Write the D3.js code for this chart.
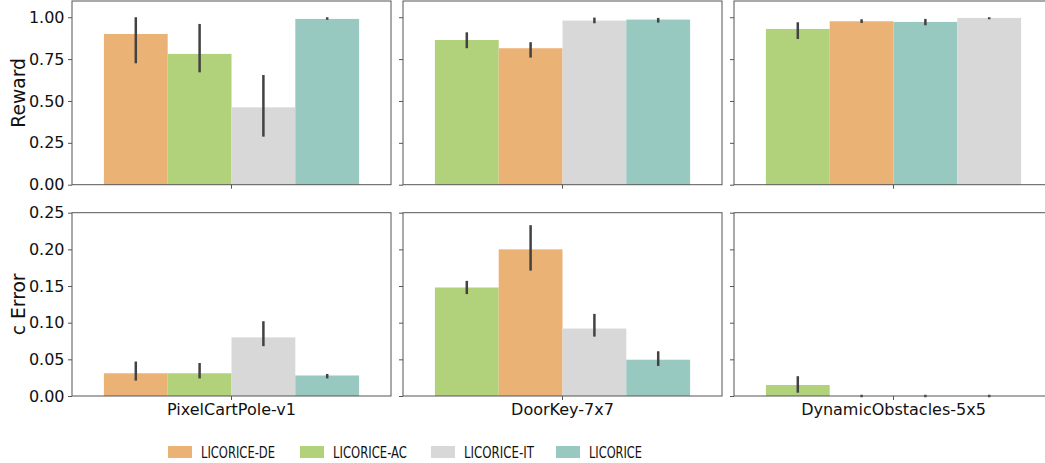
<!DOCTYPE html>
<html>
<head>
<meta charset="utf-8">
<script src="https://cdn.jsdelivr.net/npm/d3@7"></script>
<style>
  body { margin: 0; background: #fff; }
  svg { display: block; font-family: "DejaVu Sans", sans-serif; }
</style>
</head>
<body>
<script>
// data
const envs = ["PixelCartPole-v1", "DoorKey-7x7", "DynamicObstacles-5x5"];
const methods = ["LICORICE-DE", "LICORICE-AC", "LICORICE-IT", "LICORICE"];
const colors = ["#ebb276", "#b1d17a", "#d8d8d8", "#98c9c1"];

// bar order inside each environment group
const barOrder = [
  ["LICORICE-DE", "LICORICE-AC", "LICORICE-IT", "LICORICE"],
  ["LICORICE-AC", "LICORICE-DE", "LICORICE-IT", "LICORICE"],
  ["LICORICE-AC", "LICORICE-DE", "LICORICE", "LICORICE-IT"]
];

// values per env, in `methods` order: [DE, AC, IT, LICORICE]
const rewardMean = [[0.90, 0.781, 0.462, 0.99], [0.815, 0.864, 0.98, 0.986], [0.976, 0.930, 0.996, 0.972]];
const rewardLo   = [[0.725, 0.671, 0.287, 0.985], [0.759, 0.815, 0.964, 0.968], [0.966, 0.870, 0.988, 0.952]];
const rewardHi   = [[1.0, 0.96, 0.655, 1.0], [0.851, 0.91, 0.998, 0.996], [0.988, 0.970, 1.0, 0.990]];

const errMean = [[0.031, 0.031, 0.080, 0.028], [0.200, 0.148, 0.092, 0.0495], [0, 0.015, 0, 0]];
const errLo   = [[0.021, 0.024, 0.068, 0.024], [0.171, 0.139, 0.081, 0.041], [0, 0.0045, 0, 0]];
const errHi   = [[0.047, 0.045, 0.102, 0.030], [0.233, 0.157, 0.112, 0.061], [0, 0.027, 0, 0]];

const rewardTicks = [0, 0.25, 0.5, 0.75, 1.0];
const errTicks = [0, 0.05, 0.10, 0.15, 0.20, 0.25];

const rows = [
  { label: "Reward", mean: rewardMean, lo: rewardLo, hi: rewardHi, domain: [0, 1.097], ticks: rewardTicks, range: [184.7, 1] },
  { label: "c Error", mean: errMean, lo: errLo, hi: errHi, domain: [0, 0.25], ticks: errTicks, range: [396, 212.7] }
];

const W = 1045, H = 463;
const panelLeft = [72, 403, 734];
const panelW = 319;
const axisColor = "#555";

const svg = d3.select("body").append("svg").attr("width", W).attr("height", H);

const color = d3.scaleOrdinal().domain(methods).range(colors);

rows.forEach((row, r) => {
  const y = d3.scaleLinear().domain(row.domain).range(row.range);

  envs.forEach((env, c) => {
    const x0 = panelLeft[c];
    const g = svg.append("g");

    // single category band, seaborn style width 0.8
    const band = d3.scaleBand().domain([env]).range([x0, x0 + panelW]).paddingInner(0).paddingOuter(0.125);
    const xb = d3.scaleBand().domain(barOrder[c]).range([band(env), band(env) + band.bandwidth()]);

    const bars = barOrder[c].map(m => {
      const i = methods.indexOf(m);
      return { m, v: row.mean[c][i], lo: row.lo[c][i], hi: row.hi[c][i] };
    });

    g.selectAll("rect.bar").data(bars).enter().append("rect")
      .attr("class", "bar")
      .attr("x", d => xb(d.m))
      .attr("width", xb.bandwidth())
      .attr("y", d => y(d.v))
      .attr("height", d => y(0) - y(d.v))
      .attr("fill", d => color(d.m));

    g.selectAll("line.err").data(bars).enter().append("line")
      .attr("class", "err")
      .attr("x1", d => xb(d.m) + xb.bandwidth() / 2)
      .attr("x2", d => xb(d.m) + xb.bandwidth() / 2)
      .attr("y1", d => y(d.lo))
      .attr("y2", d => y(d.hi))
      .attr("stroke", "#424242")
      .attr("stroke-width", 2.5)
      .attr("stroke-linecap", d => d.hi === d.lo ? "square" : "butt");

    // frame
    g.append("rect")
      .attr("x", x0).attr("y", row.range[1])
      .attr("width", panelW).attr("height", row.range[0] - row.range[1])
      .attr("fill", "none").attr("stroke", axisColor).attr("stroke-width", 1);

    // y axis
    const yAxis = d3.axisLeft(y).tickValues(row.ticks).tickSize(4).tickPadding(3.5)
      .tickFormat(d3.format(".2f"));
    const ya = g.append("g").attr("transform", `translate(${x0},0)`).call(yAxis);
    ya.select(".domain").remove();
    ya.selectAll(".tick line").attr("stroke", axisColor);
    ya.selectAll(".tick text")
      .attr("font-size", 16).attr("fill", "#111")
      .attr("font-family", "DejaVu Sans, sans-serif")
      .style("display", c === 0 ? null : "none");

    // x axis
    const xAxis = d3.axisBottom(band).tickSize(4).tickPadding(3.5);
    const xa = g.append("g").attr("transform", `translate(0,${row.range[0]})`).call(xAxis);
    xa.select(".domain").remove();
    xa.selectAll(".tick line").attr("stroke", axisColor);
    xa.selectAll(".tick text")
      .attr("font-size", 16).attr("fill", "#111")
      .attr("font-family", "DejaVu Sans, sans-serif")
      .style("display", r === 1 ? null : "none");
  });

  // row label
  svg.append("text")
    .attr("transform", `translate(25,${(row.range[0] + row.range[1]) / 2})rotate(-90)`)
    .attr("text-anchor", "middle")
    .attr("font-size", 18.7)
    .attr("fill", "#111")
    .text(row.label);
});

// legend (text is narrower than normal in the reference)
const legendX = [168, 300, 431, 556];
const legendTextW = [74, 74, 70, 53];
const leg = svg.append("g");
methods.forEach((m, i) => {
  leg.append("rect")
    .attr("x", legendX[i]).attr("y", 446)
    .attr("width", 24).attr("height", 12)
    .attr("fill", color(m));
  leg.append("text")
    .attr("x", legendX[i] + 33).attr("y", 458)
    .attr("font-size", 16).attr("fill", "#111")
    .attr("textLength", legendTextW[i])
    .attr("lengthAdjust", "spacingAndGlyphs")
    .text(m);
});
</script>
</body>
</html>
